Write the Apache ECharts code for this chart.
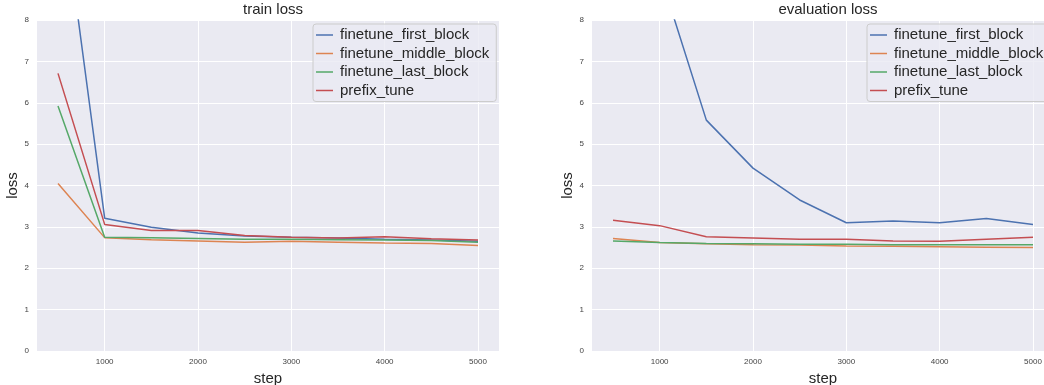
<!DOCTYPE html>
<html>
<head>
<meta charset="utf-8">
<script src="https://cdn.jsdelivr.net/npm/echarts@6/dist/echarts.min.js"></script>
<style>
html,body{margin:0;padding:0;background:#fff;}
#c{width:1044px;height:385px;}
</style>
</head>
<body>
<div id="c"></div>
<script>
var steps = [500, 1000, 1500, 2000, 2500, 3000, 3500, 4000, 4500, 5000];
var seriesNames = ['finetune_first_block', 'finetune_middle_block', 'finetune_last_block', 'prefix_tune'];
var xTicks = [1000, 2000, 3000, 4000, 5000];

// train loss
var trainFirst  = [11.7, 3.21, 2.99, 2.85, 2.78, 2.75, 2.73, 2.70, 2.68, 2.65];
var trainMiddle = [4.05, 2.74, 2.69, 2.66, 2.63, 2.65, 2.63, 2.61, 2.60, 2.55];
var trainLast   = [5.92, 2.75, 2.74, 2.72, 2.70, 2.70, 2.69, 2.68, 2.67, 2.63];
var trainPrefix = [6.71, 3.06, 2.91, 2.91, 2.79, 2.75, 2.73, 2.76, 2.71, 2.68];

// evaluation loss
var evalFirst  = [13.5, 9.14, 5.58, 4.42, 3.65, 3.10, 3.14, 3.10, 3.20, 3.06];
var evalMiddle = [2.72, 2.62, 2.59, 2.57, 2.56, 2.54, 2.53, 2.52, 2.51, 2.50];
var evalLast   = [2.66, 2.62, 2.60, 2.59, 2.58, 2.58, 2.57, 2.57, 2.57, 2.57];
var evalPrefix = [3.16, 3.03, 2.76, 2.73, 2.70, 2.70, 2.66, 2.65, 2.70, 2.75];

var colors = ['#4C72B0', '#DD8452', '#55A868', '#C44E52'];
var FONT = "'Liberation Sans', Arial, sans-serif";
var TXT = '#262626';

function pairs(vals) { return steps.map(function (s, i) { return [s, vals[i]]; }); }

function mkX(idx) {
  return {
    gridIndex: idx, type: 'value', min: 275, max: 5225,
    name: 'step', nameLocation: 'middle', nameGap: 16,
    nameTextStyle: { fontFamily: FONT, fontSize: 15, color: TXT },
    axisLine: { show: false },
    axisTick: { show: false, customValues: xTicks },
    axisLabel: { customValues: xTicks, fontFamily: FONT, fontSize: 8, color: '#444', margin: 7,
      formatter: function (v) { return String(v); } },
    splitLine: { show: true, lineStyle: { color: '#ffffff', width: 1 } }
  };
}
function mkY(idx) {
  return {
    gridIndex: idx, type: 'value', min: 0, max: 8, interval: 1,
    name: 'loss', nameLocation: 'middle', nameGap: 16, nameRotate: 90,
    nameTextStyle: { fontFamily: FONT, fontSize: 15, color: TXT },
    axisLine: { show: false }, axisTick: { show: false },
    axisLabel: { fontFamily: FONT, fontSize: 8, color: '#444', margin: 8 },
    splitLine: { show: true, lineStyle: { color: '#ffffff', width: 1 } }
  };
}
function mkSeries(idx, arrs) {
  return arrs.map(function (a, i) {
    return {
      name: seriesNames[i], type: 'line', xAxisIndex: idx, yAxisIndex: idx,
      data: pairs(a), showSymbol: false, symbol: 'none',
      lineStyle: { color: colors[i], width: 1.5 }, itemStyle: { color: colors[i] },
      clip: true, animation: false
    };
  });
}
function mkLegend(left) {
  return {
    orient: 'vertical', left: left, top: 24,
    data: seriesNames, icon: 'rect', itemWidth: 17, itemHeight: 1.5, itemGap: 2.5,
    padding: [3, 7, 3, 3],
    backgroundColor: 'rgba(234,234,242,0.8)', borderColor: '#cccccc', borderWidth: 1, borderRadius: 3,
    textStyle: { fontFamily: FONT, fontSize: 15, color: TXT, lineHeight: 16, padding: [0, 0, 0, 2] },
    selectedMode: false
  };
}

var chart = echarts.init(document.getElementById('c'), null, { renderer: 'canvas' });
chart.setOption({
  animation: false,
  color: colors,
  title: [
    { text: 'train loss', left: 268, top: -3, textAlign: 'center',
      textStyle: { fontFamily: FONT, fontSize: 15, fontWeight: 'normal', color: TXT } },
    { text: 'evaluation loss', left: 823, top: -3, textAlign: 'center',
      textStyle: { fontFamily: FONT, fontSize: 15, fontWeight: 'normal', color: TXT } }
  ],
  legend: [mkLegend(313), mkLegend(867)],
  grid: [
    { left: 37, top: 20, width: 462, height: 331, show: true, backgroundColor: '#EAEAF2', borderWidth: 0,
      outerBoundsMode: 'none', containLabel: false },
    { left: 592, top: 20, width: 462, height: 331, show: true, backgroundColor: '#EAEAF2', borderWidth: 0,
      outerBoundsMode: 'none', containLabel: false }
  ],
  xAxis: [mkX(0), mkX(1)],
  yAxis: [mkY(0), mkY(1)],
  series: mkSeries(0, [trainFirst, trainMiddle, trainLast, trainPrefix])
    .concat(mkSeries(1, [evalFirst, evalMiddle, evalLast, evalPrefix]))
});
</script>
</body>
</html>
